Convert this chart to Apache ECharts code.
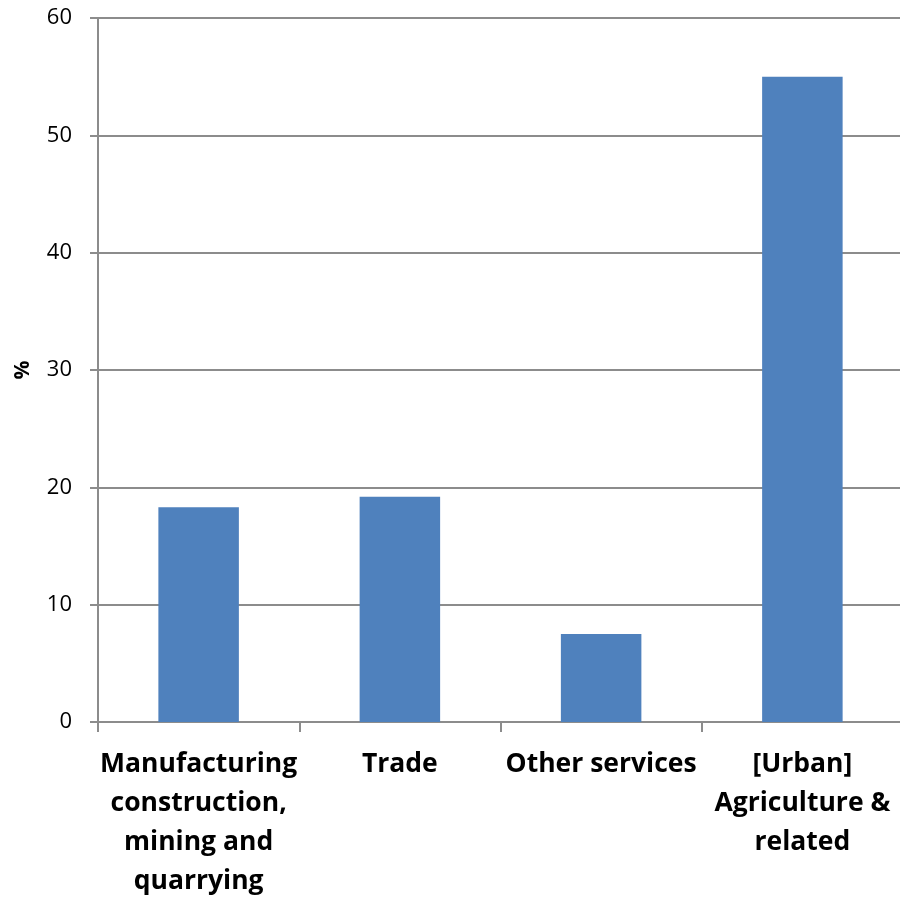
<!DOCTYPE html>
<html>
<head>
<meta charset="utf-8">
<script src="https://cdn.jsdelivr.net/npm/echarts@6/dist/echarts.min.js"></script>
<style>
html,body{margin:0;padding:0;background:#fff;}
#chart{width:900px;height:900px;}
</style>
</head>
<body>
<div id="chart"></div>
<script>
// Sector categories and share values (%)
const categories = [
  "Manufacturing\nconstruction,\nmining and\nquarrying",
  "Trade",
  "Other services",
  "[Urban]\nAgriculture &\nrelated"
];
const shares = [18.3, 19.2, 7.5, 55.0];
const yTicks = { min: 0, max: 60, interval: 10 };

const chart = echarts.init(document.getElementById('chart'));
const axisGray = '#8c8c8c';
const font = '"Open Sans", "Liberation Sans", sans-serif';

chart.setOption({
  animation: false,
  grid: { left: 98, right: -3, top: 18, bottom: 178, outerBoundsMode: 'none', containLabel: false },
  xAxis: {
    type: 'category',
    data: categories,
    axisLine: { lineStyle: { color: axisGray, width: 2 } },
    axisTick: { show: true, length: 10, alignWithLabel: false, lineStyle: { color: axisGray, width: 2 } },
    axisLabel: {
      interval: 0,
      margin: 23,
      color: '#000',
      fontFamily: font,
      fontWeight: 'bold',
      fontSize: 26.5,
      lineHeight: 39,
      align: 'center'
    }
  },
  yAxis: {
    type: 'value',
    min: yTicks.min,
    max: yTicks.max,
    interval: yTicks.interval,
    name: '%',
    nameLocation: 'middle',
    nameGap: 64,
    nameRotate: 90,
    nameTextStyle: { color: '#000', fontFamily: font, fontWeight: 'bold', fontSize: 21 },
    axisLine: { show: true, lineStyle: { color: axisGray, width: 2 } },
    axisTick: { show: true, length: 8, lineStyle: { color: axisGray, width: 2 } },
    axisLabel: { color: '#000', fontFamily: font, fontSize: 22, margin: 26 },
    splitLine: { lineStyle: { color: axisGray, width: 2 } }
  },
  series: [{
    type: 'bar',
    data: shares,
    barWidth: '40%',
    itemStyle: { color: '#4f81bd' }
  }]
});
</script>
</body>
</html>
